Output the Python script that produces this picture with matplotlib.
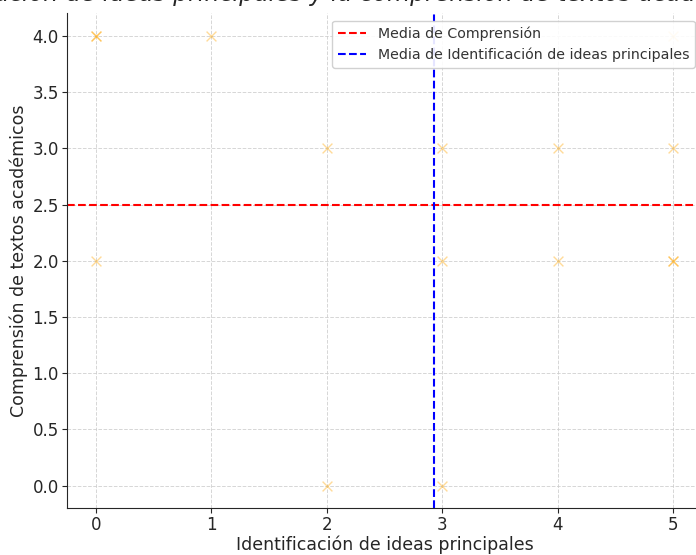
import matplotlib
matplotlib.use("Agg")
import matplotlib.pyplot as plt

plt.rcParams["font.family"] = ["DejaVu Sans"]

# data
identificacion = [0, 0, 0, 1, 2, 2, 3, 3, 3, 4, 4, 5, 5, 5, 5]
comprension = [4, 4, 2, 4, 3, 0, 3, 2, 0, 3, 2, 4, 3, 2, 2]
media_comprension = 2.5
media_identificacion = 2.93

titulo = "Relación entre la identificación de ideas principales y la comprensión de textos académicos"

fig = plt.figure(figsize=(6.96, 5.55), dpi=100)
ax = fig.add_axes([0.0963, 0.0847, 0.9124, 0.891])

ax.scatter(identificacion, comprension, marker="x", color="orange", alpha=0.4, s=50, linewidths=1)
ax.axhline(media_comprension, color="red", linestyle="--", linewidth=1.5, label="Media de Comprensión")
ax.axvline(media_identificacion, color="blue", linestyle="--", linewidth=1.5,
           label="Media de Identificación de ideas principales")

ax.set_xlim(-0.25, 5.25)
ax.set_ylim(-0.2, 4.2)
ax.set_xticks([0, 1, 2, 3, 4, 5])
ax.set_yticks([0, 0.5, 1, 1.5, 2, 2.5, 3, 3.5, 4])
ax.set_yticklabels(["0.0", "0.5", "1.0", "1.5", "2.0", "2.5", "3.0", "3.5", "4.0"])
ax.tick_params(labelsize=12, colors="#262626", length=3.5, pad=2.5)
ax.grid(True, linestyle="--", color="#cccccc", linewidth=0.7, alpha=0.8)
ax.set_axisbelow(True)
ax.spines["top"].set_visible(False)
ax.spines["right"].set_visible(False)
for s in ["left", "bottom"]:
    ax.spines[s].set_color("#262626")

ax.set_xlabel("Identificación de ideas principales", fontsize=12.5, color="#262626", labelpad=1)
ax.set_ylabel("Comprensión de textos académicos", fontsize=12.5, color="#262626", labelpad=3)
ax.legend(loc="upper right", fontsize=10.2, labelcolor="#333333", framealpha=0.9)

fig.text(0.339, 0.9975, titulo, ha="center", va="baseline", fontsize=17, style="italic", color="#262626")

plt.savefig("out.png", dpi=100)
